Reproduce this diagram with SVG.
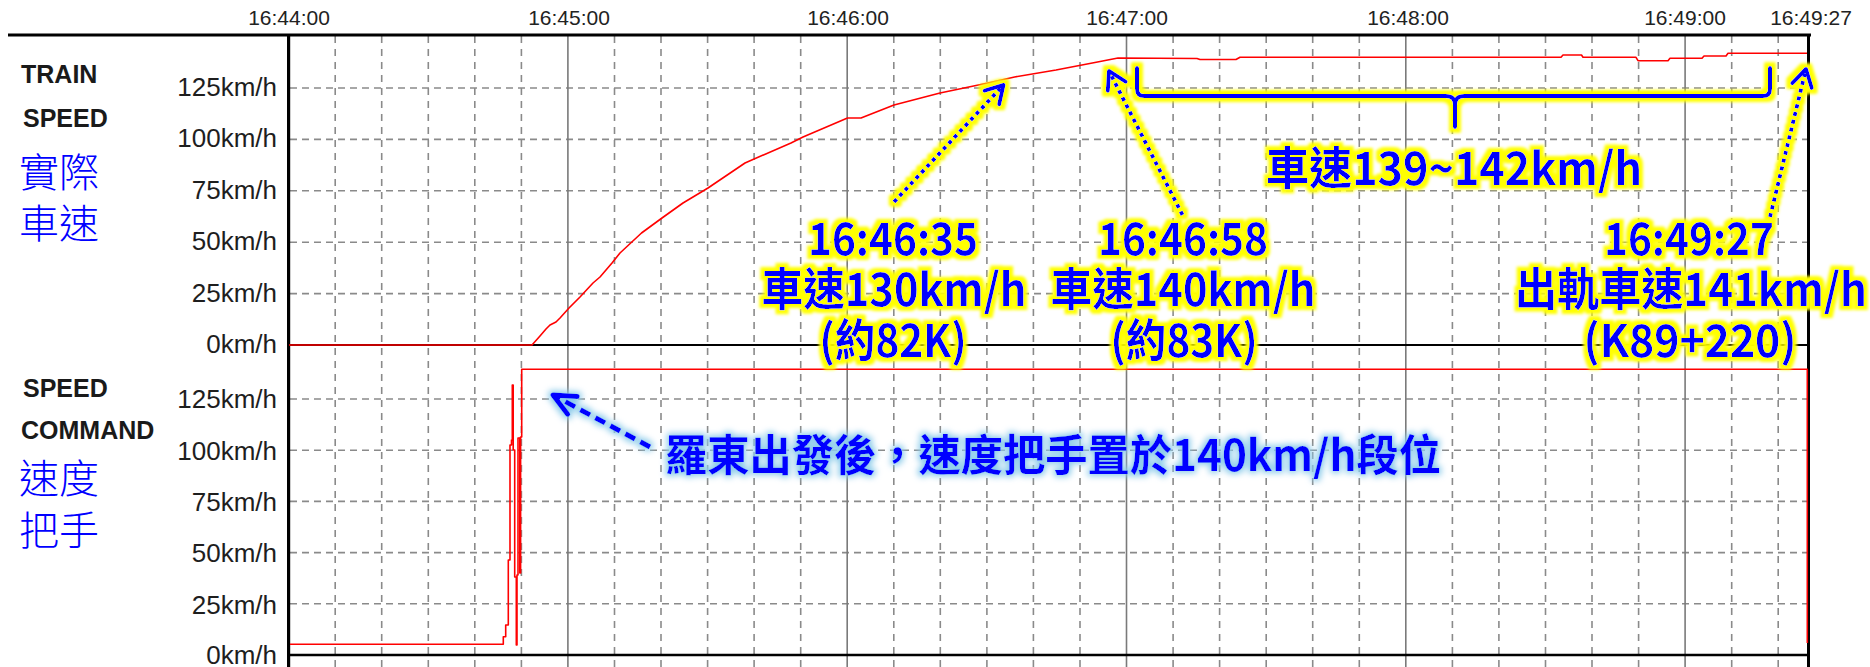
<svg xmlns="http://www.w3.org/2000/svg" width="1870" height="667" viewBox="0 0 1870 667">
<style>
.bg{fill:#ffffff}
.dash{fill:none;stroke:#8a8a8a;stroke-width:1.6;stroke-dasharray:7 6}
.hdash{fill:none;stroke:#8a8a8a;stroke-width:1.6;stroke-dasharray:7 5}
.minute{fill:none;stroke:#7a7a7a;stroke-width:1.6}
.axis{fill:none;stroke:#000000}
.red{fill:none;stroke:#ff0000;stroke-width:1.6;stroke-linejoin:round}
.tick{font-family:"Liberation Sans",Arial,sans-serif;font-size:21px;fill:#222222;text-anchor:middle}
.ylab{font-family:"Liberation Sans",Arial,sans-serif;font-size:26px;fill:#1e1e1e;text-anchor:end}
.ttl{font-family:"Liberation Sans",Arial,sans-serif;font-size:25px;font-weight:bold;fill:#1a1a1a}
.cn{font-family:"Noto Sans CJK TC","Noto Sans CJK SC",sans-serif;font-size:40px;fill:#0000ff;font-weight:300}
.ann{font-family:"Noto Sans CJK TC","Noto Sans CJK SC",sans-serif;font-size:45px;font-weight:bold;fill:#0000ff;text-anchor:middle}
.ann2{font-family:"Noto Sans CJK TC","Noto Sans CJK SC",sans-serif;font-size:43px;font-weight:bold;fill:#0000ff;text-anchor:middle}
.dot{fill:none;stroke:#0000ff;stroke-width:4;stroke-dasharray:4 4}
.brace{fill:none;stroke:#0000ff;stroke-width:4;stroke-linejoin:round;stroke-linecap:round}
.bdash{fill:none;stroke:#0000ff;stroke-width:5;stroke-dasharray:11 6}
</style>
<defs>
<filter id="yg" filterUnits="userSpaceOnUse" x="0" y="0" width="1870" height="667">
<feMorphology in="SourceAlpha" operator="dilate" radius="3.5" result="d"/>
<feGaussianBlur in="d" stdDeviation="1.5" result="b"/>
<feFlood flood-color="#ffff00"/>
<feComposite in2="b" operator="in" result="y"/>
<feMerge><feMergeNode in="y"/><feMergeNode in="SourceGraphic"/></feMerge>
</filter>
<filter id="bgl" filterUnits="userSpaceOnUse" x="0" y="0" width="1870" height="667">
<feMorphology in="SourceAlpha" operator="dilate" radius="1.5" result="d"/>
<feGaussianBlur in="d" stdDeviation="3" result="b"/>
<feFlood flood-color="#8ccbea"/>
<feComposite in2="b" operator="in" result="y"/>
<feMerge><feMergeNode in="y"/><feMergeNode in="SourceGraphic"/></feMerge>
</filter>
<marker id="ah" markerUnits="userSpaceOnUse" viewBox="-22 -13 26 26" refX="0" refY="0" markerWidth="26" markerHeight="26" orient="auto">
<path d="M-17,-10 L0,0 L-17,10" fill="none" stroke="#0000ff" stroke-width="4" stroke-linecap="round" stroke-linejoin="round"/>
</marker>
<marker id="ah2" markerUnits="userSpaceOnUse" viewBox="-26 -13 30 26" refX="0" refY="0" markerWidth="30" markerHeight="26" orient="auto">
<path d="M-22,-10 L0,0 L-22,10" fill="none" stroke="#0000ff" stroke-width="5" stroke-linecap="round" stroke-linejoin="round"/>
</marker>
</defs>
<rect class="bg" x="0" y="0" width="1870" height="667"/>

<g id="grid">
<path class="dash" d="M335.2,36V667M381.7,36V667M428.3,36V667M474.8,36V667M521.4,36V667M614.5,36V667M661,36V667M707.6,36V667M754.1,36V667M800.7,36V667M893.8,36V667M940.3,36V667M986.9,36V667M1033.4,36V667M1080,36V667M1173.1,36V667M1219.6,36V667M1266.2,36V667M1312.7,36V667M1359.3,36V667M1452.4,36V667M1498.9,36V667M1545.5,36V667M1592,36V667M1638.6,36V667M1731.7,36V667M1778.2,36V667"/>
<path class="hdash" d="M290,88H1807M290,139.4H1807M290,190.8H1807M290,242.2H1807M290,293.6H1807M290,399H1807M290,450.2H1807M290,501.4H1807M290,552.6H1807M290,603.8H1807"/>
<path class="minute" d="M567.9,36V667M847.2,36V667M1126.5,36V667M1405.8,36V667M1685.1,36V667"/>
</g>

<g id="axes">
<path class="axis" stroke-width="3" d="M8,35H1811"/>
<path class="axis" stroke-width="3.2" d="M288.6,35V667"/>
<path class="axis" stroke-width="3" d="M1808.5,35V667"/>
<path class="axis" stroke-width="2" d="M288,345H1810"/>
<path class="axis" stroke-width="2.5" d="M288,655H1810"/>
</g>

<g id="time-labels">
<text class="tick" x="289" y="25">16:44:00</text>
<text class="tick" x="569" y="25">16:45:00</text>
<text class="tick" x="848" y="25">16:46:00</text>
<text class="tick" x="1127" y="25">16:47:00</text>
<text class="tick" x="1408" y="25">16:48:00</text>
<text class="tick" x="1685" y="25">16:49:00</text>
<text class="tick" x="1811" y="25">16:49:27</text>
</g>

<g id="y-labels">
<text class="ylab" x="277" y="96">125km/h</text>
<text class="ylab" x="277" y="147.4">100km/h</text>
<text class="ylab" x="277" y="198.8">75km/h</text>
<text class="ylab" x="277" y="250.2">50km/h</text>
<text class="ylab" x="277" y="301.6">25km/h</text>
<text class="ylab" x="277" y="353">0km/h</text>
<text class="ylab" x="277" y="408.3">125km/h</text>
<text class="ylab" x="277" y="459.6">100km/h</text>
<text class="ylab" x="277" y="510.9">75km/h</text>
<text class="ylab" x="277" y="562.2">50km/h</text>
<text class="ylab" x="277" y="613.5">25km/h</text>
<text class="ylab" x="277" y="664">0km/h</text>
</g>

<g id="title-train-speed">
<text class="ttl" x="21" y="83">TRAIN</text>
<text class="ttl" x="23" y="127">SPEED</text>
<text class="cn" x="19" y="187">實際</text>
<text class="cn" x="19" y="238">車速</text>
</g>
<g id="title-speed-command">
<text class="ttl" x="23" y="397">SPEED</text>
<text class="ttl" x="21" y="439">COMMAND</text>
<text class="cn" x="19" y="493">速度</text>
<text class="cn" x="19" y="545">把手</text>
</g>

<g id="series">
<polyline class="red" points="289,345 532,345 540,336 546,329 550,325 556,322 560,318 569,308 580,297 593,283 600,277 612,263 620,253 641.5,233 662,218 683,203 708,188 745,163 791,143 803,137 847.5,118 861,118 894,105 940,93 988,83 1014.6,77 1056,70 1097.5,62 1118,58 1197,58.5 1200,59.5 1236,59.5 1240,57.3 1561,57.3 1563,55 1581.5,55 1583,57.3 1636,57.3 1638,60.7 1668,60.7 1670,58.3 1702,58.3 1704,56 1726,56 1728,53.3 1807,53.3"/>
<path class="red" d="M290,644.3H503.3V636.7H505.7V625H508.3V560H510V445H511.5V440H512.3V385H513.2V450H514.7V577H516.3V645H517V575H518V438H519.8V573H520.6V437H521.7V369.3H1807.3V643"/>
</g>

<g id="ann-1">
<g filter="url(#yg)">
<text class="ann" x="893" y="255" textLength="170" lengthAdjust="spacingAndGlyphs">16:46:35</text>
<text class="ann" x="894" y="306" textLength="265" lengthAdjust="spacingAndGlyphs">車速130km/h</text>
<text class="ann" x="893" y="357" textLength="147" lengthAdjust="spacingAndGlyphs">(約82K)</text>
</g>
</g>
<g id="ann-2">
<g filter="url(#yg)">
<text class="ann" x="1183" y="255" textLength="170" lengthAdjust="spacingAndGlyphs">16:46:58</text>
<text class="ann" x="1183" y="306" textLength="265" lengthAdjust="spacingAndGlyphs">車速140km/h</text>
<text class="ann" x="1184" y="357" textLength="147" lengthAdjust="spacingAndGlyphs">(約83K)</text>
</g>
</g>
<g id="ann-3">
<g filter="url(#yg)">
<text class="ann" x="1689" y="255" textLength="170" lengthAdjust="spacingAndGlyphs">16:49:27</text>
<text class="ann" x="1691" y="306" textLength="352" lengthAdjust="spacingAndGlyphs">出軌車速141km/h</text>
<text class="ann" x="1690" y="357" textLength="213" lengthAdjust="spacingAndGlyphs">(K89+220)</text>
</g>
</g>
<g id="ann-range">
<g filter="url(#yg)">
<text class="ann" x="1454" y="185" textLength="376" lengthAdjust="spacingAndGlyphs">車速139~142km/h</text>
</g>
</g>
<g id="ann-command">
<g filter="url(#bgl)">
<text class="ann2" x="1053" y="471" textLength="776" lengthAdjust="spacingAndGlyphs">羅東出發後，速度把手置於140km/h段位</text>
</g>
</g>

<g id="connectors">
<g filter="url(#yg)">
<path class="dot" d="M894,202L1003.5,85" marker-end="url(#ah)"/>
<path class="dot" d="M1182.5,215L1109,71" marker-end="url(#ah)"/>
<path class="dot" d="M1770,217L1806,69" marker-end="url(#ah)"/>
<path class="brace" d="M1137,68V89Q1137,96 1144,96H1446Q1455,96 1455,105V127M1455,105Q1455,96 1464,96H1763Q1770,96 1770,89V68"/>
</g>
<g filter="url(#bgl)">
<path class="bdash" d="M650,447L553,395" marker-end="url(#ah2)"/>
</g>
</g>
</svg>
